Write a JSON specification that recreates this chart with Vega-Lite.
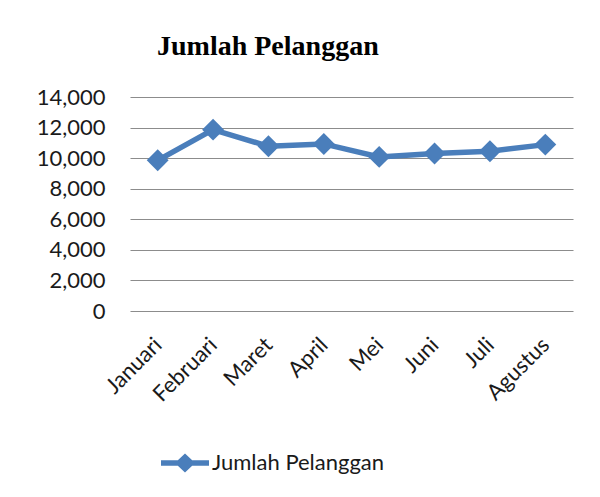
{
  "$schema": "https://vega.github.io/schema/vega-lite/v6.json",
  "autosize": "none",
  "width": 443,
  "height": 214,
  "padding": {"left": 130, "top": 97, "right": 27, "bottom": 186},
  "background": "white",
  "title": {
    "text": "Jumlah Pelanggan",
    "font": "Liberation Serif",
    "fontSize": 28,
    "fontWeight": "bold",
    "color": "black",
    "anchor": "start",
    "frame": "group",
    "dx": 27,
    "offset": 25
  },
  "data": {
    "values": [
      {"bulan": "Januari", "jumlah": 9860},
      {"bulan": "Februari", "jumlah": 11865},
      {"bulan": "Maret", "jumlah": 10775},
      {"bulan": "April", "jumlah": 10930},
      {"bulan": "Mei", "jumlah": 10080},
      {"bulan": "Juni", "jumlah": 10300},
      {"bulan": "Juli", "jumlah": 10450},
      {"bulan": "Agustus", "jumlah": 10885}
    ]
  },
  "config": {
    "view": {"stroke": null},
    "axis": {"labelFont": "Lato", "labelFontSize": 22, "labelColor": "#1a1a1a"}
  },
  "encoding": {
    "x": {
      "field": "bulan",
      "type": "ordinal",
      "sort": null,
      "scale": {"padding": 0.5},
      "axis": {
        "title": null,
        "labelAngle": -45,
        "labelAlign": "right",
        "labelBaseline": "middle",
        "labelPadding": 30,
        "domain": false,
        "ticks": false,
        "grid": false
      }
    },
    "y": {
      "field": "jumlah",
      "type": "quantitative",
      "scale": {"domain": [0, 14000], "nice": false},
      "axis": {
        "title": null,
        "values": [0, 2000, 4000, 6000, 8000, 10000, 12000, 14000],
        "format": ",d",
        "domain": false,
        "ticks": false,
        "labelPadding": 25,
        "grid": true,
        "gridColor": "#8c8c8c",
        "gridWidth": 1.2
      }
    }
  },
  "layer": [
    {
      "mark": {"type": "line", "strokeWidth": 5.5, "color": "#4A7EBB"},
      "encoding": {
        "color": {
          "datum": "Jumlah Pelanggan",
          "scale": {"range": ["#4A7EBB"]},
          "legend": {
            "title": null,
            "orient": "none",
            "legendX": 31,
            "legendY": 342,
            "padding": 0,
            "symbolType": "M-1,-0.11H-0.3L0,-0.4L0.3,-0.11H1V0.11H0.3L0,0.4L-0.3,0.11H-1Z",
            "symbolSize": 2304,
            "symbolFillColor": "#4A7EBB",
            "symbolStrokeWidth": 0,
            "labelFont": "Lato",
            "labelFontSize": 22,
            "labelColor": "#1a1a1a",
            "labelOffset": 3,
            "labelLimit": 400
          }
        }
      }
    },
    {
      "mark": {"type": "point", "shape": "diamond", "filled": true, "size": 480, "color": "#4A7EBB", "opacity": 1}
    }
  ]
}
